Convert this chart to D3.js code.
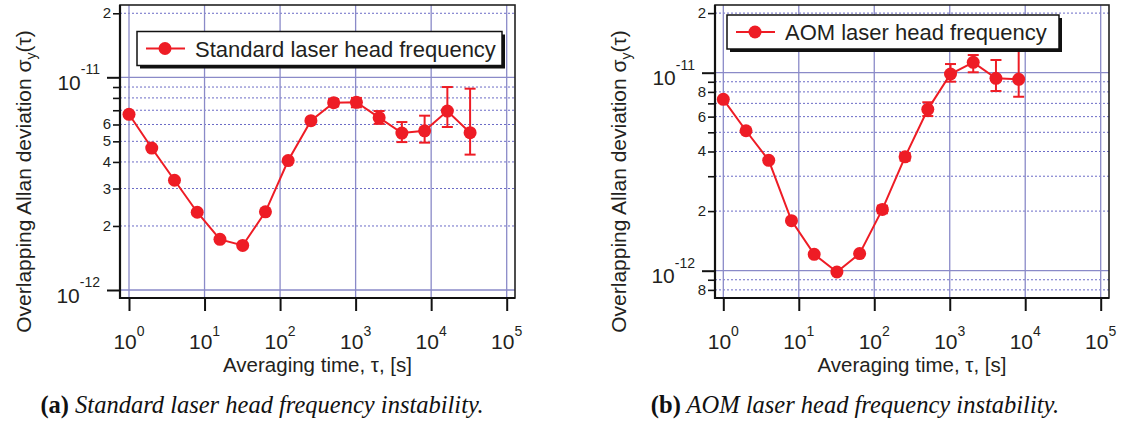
<!DOCTYPE html>
<html><head><meta charset="utf-8">
<script src="https://cdn.jsdelivr.net/npm/d3@7"></script>
<style>body{margin:0;background:#fff} svg{display:block}</style>
</head><body>
<svg id="c" width="1121" height="425"></svg>
<script>
// ---------- DATA (sigma values in units of 1e-12) ----------
const tauA = [1,2,4,8,16,32,64,128,256,512,1024,2048,4096,8192,16384,32768];
const sigmaA = [6.7,4.65,3.28,2.32,1.73,1.62,2.33,4.06,6.25,7.6,7.63,6.46,5.47,5.6,6.94,5.49];
const errLoA = [null,null,null,null,null,null,null,null,null,7.3,7.23,6.04,4.96,4.93,5.84,4.33];
const errHiA = [null,null,null,null,null,null,null,null,null,7.9,8.0,6.94,6.16,6.6,9.0,8.84];

const tauB = [1,2,4,8,16,32,64,128,256,512,1024,2048,4096,8192];
const sigmaB = [7.34,5.09,3.61,1.79,1.21,0.985,1.22,2.04,3.76,6.53,9.85,11.28,9.37,9.26];
const errLoB = [null,null,null,null,null,null,null,1.95,3.6,6.04,9.01,10.05,8.08,7.56];
const errHiB = [null,null,null,null,null,null,null,2.13,3.93,7.09,11.06,12.28,11.59,13.5];

const xDecades = [1,10,100,1000,10000,100000];
const xTickExp = ["0","1","2","3","4","5"];
const yMajors = [1,10];
const yMajorExp = ["-12","-11"];
const yMinorsA = [2,3,4,5,6,7,8,9,20];
const yMinorLabelsA = ["2","3","4","5","6","","","","2"];
const yMinorsB = [0.8,0.9,2,3,4,5,6,7,8,9,20];
const yMinorLabelsB = ["8","","2","","4","","6","","8","","2"];
const legendA = "Standard laser head frequency";
const legendB = "AOM laser head frequency";
const captionA = ["(a)", " Standard laser head frequency instability."];
const captionB = ["(b)", " AOM laser head frequency instability."];
const xTitle = "Averaging time, \u03C4, [s]";

// ---------- STYLE / LAYOUT ----------
const FONT = "'Liberation Sans', Arial, Helvetica, sans-serif";
const RED = "#ee1c25";
const TXT = "#231f20";
const svg = d3.select('#c');

function panel(o){
  const x = d3.scaleLog().domain([1,1e5]).range([o.x0, o.x1]);
  const y = d3.scaleLog().domain([1,10]).range([o.y0, o.y1]);
  const g = svg.append('g');
  const L=o.fl, R=o.fr, T=o.ft, B=o.fb;

  // minor horizontal grid (dotted)
  g.selectAll('.gm').data(o.minors).join('line')
    .attr('x1',L).attr('x2',R).attr('y1',d=>y(d)).attr('y2',d=>y(d))
    .attr('stroke','#6b6bc6').attr('stroke-width',1).attr('stroke-dasharray','2,2');
  // major horizontal grid
  g.selectAll('.gM').data(yMajors).join('line')
    .attr('x1',L).attr('x2',R).attr('y1',d=>y(d)).attr('y2',d=>y(d))
    .attr('stroke','#8a8ac8').attr('stroke-width',1.3);
  // vertical grid
  g.selectAll('.gv').data(xDecades).join('line')
    .attr('x1',d=>x(d)).attr('x2',d=>x(d)).attr('y1',T).attr('y2',B)
    .attr('stroke','#8a8ac8').attr('stroke-width',1.3);

  // frame
  g.append('rect').attr('x',L).attr('y',T).attr('width',R-L).attr('height',B-T)
    .attr('fill','none').attr('stroke','#222').attr('stroke-width',1.6);
  g.append('line').attr('x1',L).attr('x2',L).attr('y1',T).attr('y2',B+1).attr('stroke','#111').attr('stroke-width',2.2);
  g.append('line').attr('x1',L-1).attr('x2',R).attr('y1',B).attr('y2',B).attr('stroke','#111').attr('stroke-width',2.2);

  // x axis ticks
  const xa = g.append('g').attr('transform',`translate(0,${B})`)
    .call(d3.axisBottom(x).tickValues(xDecades).tickSize(13).tickFormat(''));
  xa.select('.domain').remove();
  xa.selectAll('line').attr('stroke','#111').attr('stroke-width',2);
  // x labels
  xDecades.forEach((d,i)=>{
    const t = g.append('text').attr('x',x(d)).attr('y',348.5).attr('text-anchor','middle')
      .attr('font-family',FONT).attr('fill',TXT);
    t.append('tspan').attr('font-size',21).text('10');
    t.append('tspan').attr('font-size',14).attr('dy',-13).text(xTickExp[i]);
  });
  // y axis ticks
  const ya = g.append('g').attr('transform',`translate(${L},0)`)
    .call(d3.axisLeft(y).tickValues(yMajors).tickSize(13).tickFormat(''));
  ya.select('.domain').remove();
  ya.selectAll('line').attr('stroke','#111').attr('stroke-width',2);
  const ym = g.append('g').attr('transform',`translate(${L},0)`)
    .call(d3.axisLeft(y).tickValues(o.minors).tickSize(7).tickFormat(''));
  ym.select('.domain').remove();
  ym.selectAll('line').attr('stroke','#111').attr('stroke-width',1.6);
  // y labels
  yMajors.forEach((d,i)=>{
    const t = g.append('text').attr('x',L-20).attr('y',y(d)+12.5).attr('text-anchor','end')
      .attr('font-family',FONT).attr('fill',TXT);
    t.append('tspan').attr('font-size',21).text('10');
    t.append('tspan').attr('font-size',14).attr('dy',-15.5).text(yMajorExp[i]);
  });
  o.minors.forEach((d,i)=>{
    if(!o.minorLabels[i]) return;
    g.append('text').attr('x',L-9).attr('y',y(d)+5).attr('text-anchor','end')
      .attr('font-family',FONT).attr('font-size',15).attr('fill',TXT).text(o.minorLabels[i]);
  });

  // axis titles
  const yt = g.append('text').attr('transform',`translate(${o.ytx},${(T+B)/2+30}) rotate(-90)`)
    .attr('text-anchor','middle').attr('font-family',FONT).attr('font-size',21).attr('fill',TXT);
  yt.append('tspan').text('Overlapping Allan deviation \u03C3');
  yt.append('tspan').attr('font-size',14).attr('dy',5).text('y');
  yt.append('tspan').attr('dy',-5).text('(\u03C4)');
  g.append('text').attr('x',(L+R)/2).attr('y',372).attr('text-anchor','middle')
    .attr('font-family',FONT).attr('font-size',20.5).attr('fill',TXT).text(xTitle);

  // data
  const pts = o.tau.map((t,i)=>({t, v:o.sig[i], lo:o.lo[i], hi:o.hi[i]}));
  g.append('path').datum(pts)
    .attr('d', d3.line().x(d=>x(d.t)).y(d=>y(d.v)))
    .attr('fill','none').attr('stroke',RED).attr('stroke-width',2);
  const eb = pts.filter(d=>d.lo!=null);
  g.selectAll('.eb').data(eb).join('line')
    .attr('x1',d=>x(d.t)).attr('x2',d=>x(d.t)).attr('y1',d=>y(d.lo)).attr('y2',d=>y(d.hi))
    .attr('stroke',RED).attr('stroke-width',2);
  ['lo','hi'].forEach(k=>{
    g.selectAll('.cap'+k).data(eb).join('line')
      .attr('x1',d=>x(d.t)-5.5).attr('x2',d=>x(d.t)+5.5).attr('y1',d=>y(d[k])).attr('y2',d=>y(d[k]))
      .attr('stroke',RED).attr('stroke-width',2);
  });
  g.selectAll('.pt').data(pts).join('circle')
    .attr('cx',d=>x(d.t)).attr('cy',d=>y(d.v)).attr('r',6.5).attr('fill',RED);

  // legend
  const lg = g.append('g');
  lg.append('rect').attr('x',o.lx+3).attr('y',o.ly+3).attr('width',o.lw).attr('height',34).attr('fill','#111');
  lg.append('rect').attr('x',o.lx).attr('y',o.ly).attr('width',o.lw).attr('height',34)
    .attr('fill','#fff').attr('stroke','#111').attr('stroke-width',1.5);
  const cy = o.ly+17;
  lg.append('line').attr('x1',o.lx+9).attr('x2',o.lx+48).attr('y1',cy).attr('y2',cy).attr('stroke',RED).attr('stroke-width',2);
  lg.append('circle').attr('cx',o.lx+28).attr('cy',cy).attr('r',6.5).attr('fill',RED);
  lg.append('text').attr('x',o.lx+58).attr('y',cy+8).attr('font-family',FONT).attr('font-size',22)
    .attr('fill',TXT).text(o.legend);

  // caption
  const c = svg.append('text').attr('x',o.capx).attr('y',413).attr('text-anchor','middle')
    .attr('font-family',"'Liberation Serif','Times New Roman',serif").attr('font-size',24.5).attr('fill','#111');
  c.append('tspan').attr('font-weight','bold').text(o.caption[0]);
  c.append('tspan').attr('font-style','italic').text(o.caption[1]);
}

panel({x0:129,x1:506.7,y0:290,y1:77.3,fl:120,fr:515,ft:5,fb:298,
  minors:yMinorsA,minorLabels:yMinorLabelsA,ytx:31,
  tau:tauA,sig:sigmaA,lo:errLoA,hi:errHiA,
  lx:137,ly:31.5,lw:365,legend:legendA,capx:262,caption:captionA});
panel({x0:723.3,x1:1100.7,y0:270.7,y1:72.7,fl:715,fr:1109,ft:5,fb:298,
  minors:yMinorsB,minorLabels:yMinorLabelsB,ytx:626,
  tau:tauB,sig:sigmaB,lo:errLoB,hi:errHiB,
  lx:727,ly:15,lw:332,legend:legendB,capx:855,caption:captionB});
</script>
</body></html>
